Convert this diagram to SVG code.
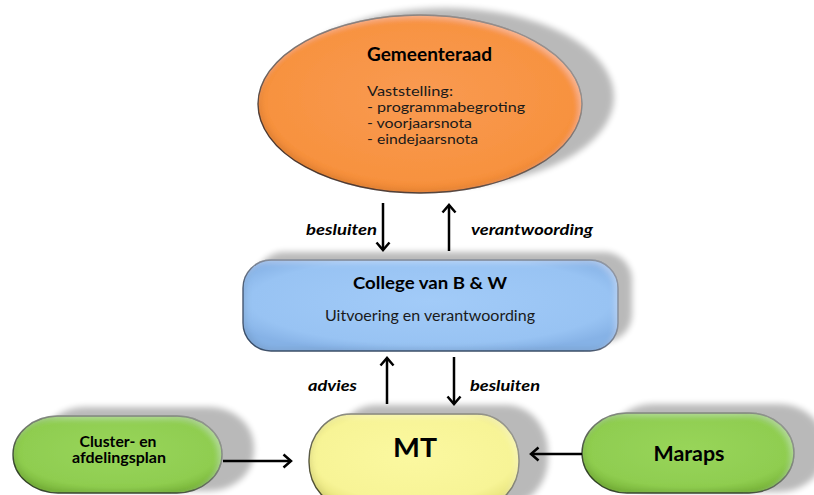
<svg xmlns="http://www.w3.org/2000/svg" width="814" height="495" viewBox="0 0 814 495">
  <defs>
    <style>
      .lbl { font-family: Lato, "Liberation Sans", sans-serif; font-weight: bold; font-style: italic; font-size: 15px; fill: #000; }
      .b { font-family: Lato, "Liberation Sans", sans-serif; font-weight: bold; fill: #000; }
      .r { font-family: Lato, "Liberation Sans", sans-serif; font-weight: normal; fill: #1a1a1a; }
      .conn { stroke: #000; stroke-width: 2.5; fill: none; }
      .shadow { fill: #000; opacity: 0.27; filter: url(#blur); }
    </style>
    <filter id="blur" x="-20%" y="-30%" width="140%" height="160%">
      <feGaussianBlur stdDeviation="3"/>
    </filter>
    <filter id="bevel" x="-5%" y="-5%" width="110%" height="110%">
      <feGaussianBlur in="SourceAlpha" stdDeviation="3" result="blur"/>
      <feOffset in="blur" dx="3" dy="-3" result="off1"/>
      <feComposite in="SourceAlpha" in2="off1" operator="out" result="edge1"/>
      <feFlood flood-color="#000" flood-opacity="0.2"/>
      <feComposite in2="edge1" operator="in" result="shade"/>
      <feOffset in="blur" dx="-3" dy="3" result="off2"/>
      <feComposite in="SourceAlpha" in2="off2" operator="out" result="edge2"/>
      <feFlood flood-color="#fff" flood-opacity="0.3"/>
      <feComposite in2="edge2" operator="in" result="hi"/>
      <feMerge>
        <feMergeNode in="SourceGraphic"/>
        <feMergeNode in="shade"/>
        <feMergeNode in="hi"/>
      </feMerge>
    </filter>
    <radialGradient id="gOrange" cx="50%" cy="45%" r="60%">
      <stop offset="0" stop-color="#F99A52"/>
      <stop offset="0.8" stop-color="#F7923F"/>
      <stop offset="1" stop-color="#EE8430"/>
    </radialGradient>
    <radialGradient id="gBlue" cx="50%" cy="45%" r="60%">
      <stop offset="0" stop-color="#A2CBF8"/>
      <stop offset="0.8" stop-color="#98C3F3"/>
      <stop offset="1" stop-color="#86B2E6"/>
    </radialGradient>
    <radialGradient id="gYellow" cx="50%" cy="45%" r="60%">
      <stop offset="0" stop-color="#FBF8A0"/>
      <stop offset="0.8" stop-color="#F7F496"/>
      <stop offset="1" stop-color="#E9E57E"/>
    </radialGradient>
    <radialGradient id="gGreen" cx="50%" cy="45%" r="60%">
      <stop offset="0" stop-color="#98D55A"/>
      <stop offset="0.8" stop-color="#8FCD50"/>
      <stop offset="1" stop-color="#7DBA3E"/>
    </radialGradient>
    <marker id="arr" viewBox="-1 -1 11 16" refX="8" refY="7" markerWidth="11" markerHeight="16" markerUnits="userSpaceOnUse" orient="auto">
      <path d="M0.5,0.5 L8,7 L0.5,13.5" fill="none" stroke="#000" stroke-width="2.5"/>
    </marker>
  </defs>

  <rect width="814" height="495" fill="#fff"/>

  <g id="node-gemeenteraad">
    <ellipse class="shadow" cx="446" cy="97" rx="168" ry="89"/>
    <ellipse cx="420" cy="104" rx="162" ry="89" fill="url(#gOrange)" stroke="#4a3020" stroke-width="1.3" filter="url(#bevel)"/>
    <text class="b" x="367" y="61" font-size="18" textLength="125" lengthAdjust="spacingAndGlyphs">Gemeenteraad</text>
    <text class="r" x="367" y="96" font-size="13.5" textLength="86" lengthAdjust="spacingAndGlyphs">Vaststelling:</text>
    <text class="r" x="367" y="112" font-size="13.5" textLength="158" lengthAdjust="spacingAndGlyphs">- programmabegroting</text>
    <text class="r" x="367" y="128" font-size="13.5" textLength="105" lengthAdjust="spacingAndGlyphs">- voorjaarsnota</text>
    <text class="r" x="367" y="144" font-size="13.5" textLength="111" lengthAdjust="spacingAndGlyphs">- eindejaarsnota</text>
  </g>

  <g id="node-college">
    <rect class="shadow" x="256" y="252" width="376" height="90" rx="28"/>
    <rect x="243" y="260" width="375" height="91" rx="28" fill="url(#gBlue)" stroke="#2f4a6a" stroke-width="1.3" filter="url(#bevel)"/>
    <text class="b" x="430" y="289" font-size="17" text-anchor="middle" textLength="154" lengthAdjust="spacingAndGlyphs">College van B &amp; W</text>
    <text class="r" x="430" y="321" font-size="14.5" text-anchor="middle" textLength="210" lengthAdjust="spacingAndGlyphs">Uitvoering en verantwoording</text>
  </g>

  <g id="node-mt">
    <rect class="shadow" x="334" y="405" width="214" height="100" rx="42" ry="46"/>
    <rect x="309" y="414" width="210" height="94" rx="42" ry="46" fill="url(#gYellow)" stroke="#4a4a20" stroke-width="1.3" filter="url(#bevel)"/>
    <text class="b" x="415" y="457" font-size="27" text-anchor="middle" textLength="44" lengthAdjust="spacingAndGlyphs">MT</text>
  </g>

  <g id="node-cluster">
    <rect class="shadow" x="40" y="407" width="214" height="84" rx="45" ry="40"/>
    <rect x="13" y="416" width="209" height="77" rx="45" ry="38" fill="url(#gGreen)" stroke="#2a4010" stroke-width="1.3" filter="url(#bevel)"/>
    <text class="b" x="118" y="447" font-size="14.5" text-anchor="middle" textLength="77" lengthAdjust="spacingAndGlyphs">Cluster- en</text>
    <text class="b" x="119" y="463" font-size="14.5" text-anchor="middle" textLength="94" lengthAdjust="spacingAndGlyphs">afdelingsplan</text>
  </g>

  <g id="node-maraps">
    <rect class="shadow" x="608" y="404" width="216" height="88" rx="45" ry="40"/>
    <rect x="582" y="413" width="212" height="80" rx="45" ry="40" fill="url(#gGreen)" stroke="#2a4010" stroke-width="1.3" filter="url(#bevel)"/>
    <text class="b" x="689" y="461" font-size="20" text-anchor="middle" textLength="71" lengthAdjust="spacingAndGlyphs">Maraps</text>
  </g>

  <g id="connectors">
    <line class="conn" x1="383" y1="203" x2="383" y2="250" marker-end="url(#arr)"/>
    <line class="conn" x1="449" y1="251" x2="449" y2="205" marker-end="url(#arr)"/>
    <line class="conn" x1="387" y1="404" x2="387" y2="358" marker-end="url(#arr)"/>
    <line class="conn" x1="454" y1="357" x2="454" y2="404" marker-end="url(#arr)"/>
    <line class="conn" x1="223" y1="461" x2="291" y2="461" marker-end="url(#arr)"/>
    <line class="conn" x1="582" y1="454" x2="531" y2="454" marker-end="url(#arr)"/>
    <text class="lbl" x="377" y="235" text-anchor="end" textLength="71" lengthAdjust="spacingAndGlyphs">besluiten</text>
    <text class="lbl" x="471" y="235" textLength="122" lengthAdjust="spacingAndGlyphs">verantwoording</text>
    <text class="lbl" x="357" y="391" text-anchor="end" textLength="49" lengthAdjust="spacingAndGlyphs">advies</text>
    <text class="lbl" x="470" y="391" textLength="70" lengthAdjust="spacingAndGlyphs">besluiten</text>
  </g>
</svg>
